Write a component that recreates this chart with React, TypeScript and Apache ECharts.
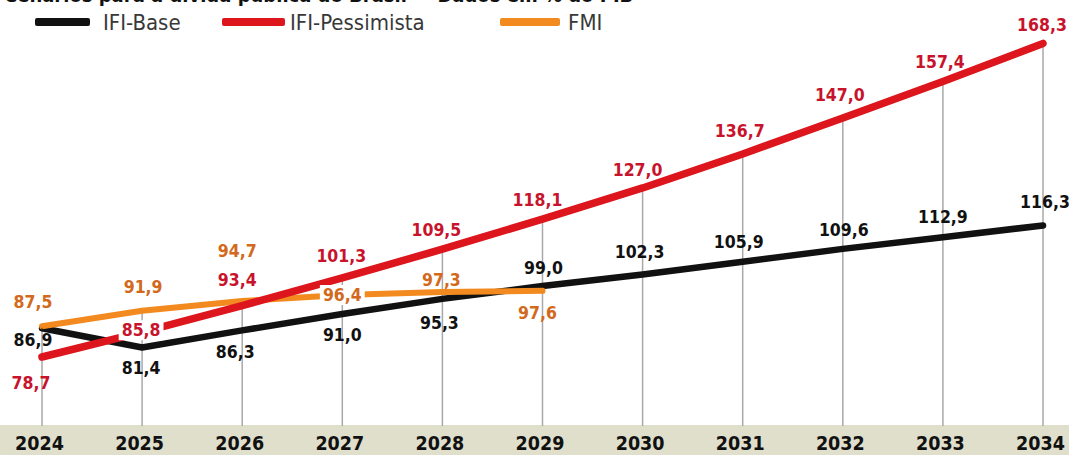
import React, { useEffect, useRef } from "react";
import * as echarts from "echarts";

const title = "Cenários para a dívida pública do Brasil — Dados em % do PIB";
const years = ["2024", "2025", "2026", "2027", "2028", "2029", "2030", "2031", "2032", "2033", "2034"];
const ifiBase = [86.9, 81.4, 86.3, 91.0, 95.3, 99.0, 102.3, 105.9, 109.6, 112.9, 116.3];
const ifiPessimista = [78.7, 85.8, 93.4, 101.3, 109.5, 118.1, 127.0, 136.7, 147.0, 157.4, 168.3];
const fmi = [87.5, 91.9, 94.7, 96.4, 97.3, 97.6, null, null, null, null, null];

// label offsets (dx, dy) relative to each point
const baseOffsets = [[-9, 12], [-1, 20], [-7, 22], [0, 21], [-3, 24], [1, -18], [-3, -22], [-4, -20], [1, -19], [0, -20], [2, -23]];
const pessOffsets = [[-11, 26], [-1, -2], [-5, -26], [-1, -22], [-6, -19], [-5, -19], [-5, -18], [-3, -23], [-3, -23], [-3, -20], [-1, -18]];
const fmiOffsets = [[-9, -24], [1, -24], [-5, -50], [0, 0], [-1, -12], [-5, 22]];
const pessBoxed = [1];
const fmiBoxed = [3];

const FONT = '"DejaVu Sans Condensed", "DejaVu Sans", sans-serif';
const fmt = (v: number) => v.toFixed(1).replace(".", ",");

function buildData(vals: (number | null)[], offs: number[][], boxed: number[]) {
  return vals.map((v, i) => {
    if (v === null) return null;
    const item: any = { value: v, label: { offset: offs[i] || [0, 0] } };
    if (boxed.indexOf(i) >= 0) {
      item.label.backgroundColor = "#ffffff";
      item.label.padding = [1, 3];
    }
    return item;
  });
}

export default function App() {
  const ref = useRef<HTMLDivElement>(null);
  useEffect(() => {
    if (!ref.current) return;
    const chart = echarts.init(ref.current, undefined, { renderer: "svg" });
    const maxVals = years.map((_, i) =>
      Math.max(ifiBase[i], ifiPessimista[i], fmi[i] === null ? -Infinity : (fmi[i] as number))
    );
    const lineSeries = (name: string, data: any[], color: string, labelColor: string, width: number) => ({
      name,
      type: "line",
      data,
      z: 3,
      symbol: "circle",
      symbolSize: 1,
      showSymbol: true,
      itemStyle: { color },
      lineStyle: { color, width, cap: "round", join: "round" },
      label: {
        show: true,
        position: "inside",
        align: "center",
        verticalAlign: "middle",
        color: labelColor,
        fontFamily: FONT,
        fontWeight: "bold",
        fontSize: 17.5,
        formatter: (p: any) => fmt(p.value),
      },
      emphasis: { disabled: true },
    });
    const legendBase = {
      top: 6,
      itemHeight: 8,
      icon: "roundRect",
      textStyle: { fontFamily: FONT, fontSize: 22, color: "#383838" },
      selectedMode: false,
    };
    chart.setOption({
      animation: false,
      grid: { left: 42, right: 26, top: 37.45, bottom: 29.05 },
      legend: [
        { ...legendBase, left: 30, itemWidth: 55, data: ["IFI-Base"], textStyle: { ...legendBase.textStyle, padding: [0, 0, 0, 8] } },
        { ...legendBase, left: 217, itemWidth: 63, data: ["IFI-Pessimista"] },
        { ...legendBase, left: 495, itemWidth: 60, data: ["FMI"], textStyle: { ...legendBase.textStyle, padding: [0, 0, 0, 3] } },
      ],
      xAxis: {
        type: "category",
        data: years,
        boundaryGap: false,
        axisLine: { show: false },
        axisTick: { show: false },
        axisLabel: {
          margin: 8,
          color: "#111",
          fontFamily: FONT,
          fontWeight: "bold",
          fontSize: 19.5,
          padding: [0, 5, 0, 0],
        },
      },
      yAxis: { type: "value", min: 59, max: 170, show: false, splitLine: { show: false } },
      graphic: [
        { type: "rect", z: -10, shape: { x: 0, y: 425, width: 1069, height: 30 }, style: { fill: "#dfdfcc" } },
        {
          type: "text",
          left: 4,
          top: -15,
          style: { text: title, fontFamily: FONT, fontWeight: "bold", fontSize: 20, fill: "#111" },
        },
      ],
      series: [
        {
          name: "grid",
          type: "bar",
          data: maxVals,
          barWidth: 1.5,
          z: 1,
          silent: true,
          itemStyle: { color: "#a8a8a8" },
          label: { show: false },
        },
        lineSeries("IFI-Base", buildData(ifiBase, baseOffsets, []), "#111111", "#111111", 6.5),
        lineSeries("FMI", buildData(fmi, fmiOffsets, fmiBoxed), "#f28a1f", "#d2691c", 6),
        lineSeries("IFI-Pessimista", buildData(ifiPessimista, pessOffsets, pessBoxed), "#dd151c", "#c8132c", 7.5),
      ],
    });
    return () => chart.dispose();
  }, []);
  return <div ref={ref} style={{ position: "absolute", left: 0, top: 0, width: 1069, height: 455 }} />;
}
